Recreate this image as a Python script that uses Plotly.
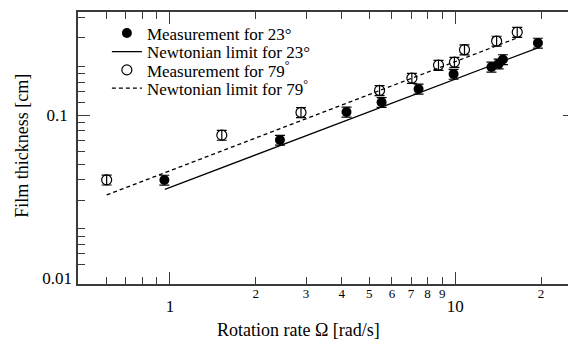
import math
import plotly.graph_objects as go

# ---- data ----
omega_23 = [0.956, 2.43, 4.16, 5.52, 7.44, 9.87, 13.4, 14.2, 14.7, 19.5]
thick_23 = [0.0399, 0.0703, 0.1047, 0.120, 0.145, 0.179, 0.198, 0.207, 0.220, 0.278]

omega_79 = [0.60, 1.52, 2.88, 5.43, 7.05, 8.74, 9.94, 10.78, 13.97, 16.5]
thick_79 = [0.0400, 0.0754, 0.104, 0.142, 0.169, 0.203, 0.212, 0.253, 0.286, 0.324]

err_pct = 7.0  # relative error bar (percent)

newt23_x = [0.96, 19.8]
newt23_y = [0.035, 0.2625]
newt79_x = [0.60, 16.6]
newt79_y = [0.0323, 0.300]

x_major = [1, 10]
x_major_text = ["1", "10"]
x_minor_labeled = [2, 3, 4, 5, 6, 7, 8, 9, 20]
x_minor_text = ["2", "3", "4", "5", "6", "7", "8", "9", "2"]
x_minor = [0.6, 0.7, 0.8, 0.9, 2, 3, 4, 5, 6, 7, 8, 9, 20]

y_major = [0.1]
y_major_text = ["0.1"]
y_label_only = [0.01]
y_label_only_text = ["0.01"]
y_minor = [0.012, 0.014, 0.016, 0.018, 0.02, 0.03, 0.04, 0.05, 0.06, 0.07,
           0.08, 0.09, 0.12, 0.14, 0.16, 0.18, 0.2, 0.3, 0.4]

legend_names = ["Measurement for 23°", "Newtonian limit for 23°",
                "Measurement for 79<sup>°</sup>", "Newtonian limit for 79<sup>°</sup>"]

# ---- layout geometry (pixels) ----
W, H = 577, 341
L, R, T, B = 78, 577, 11.5, 284.3
x_lo = -0.3223
x_hi = x_lo + (R - L) / 286.4
y_lo, y_hi = -2.0387, -0.365

FONT = "'Liberation Serif', 'Times New Roman', Times, serif"
AX = "#3a3a3a"

def px_to_paper_x(px):
    return (px - L) / (R - L)

def px_to_paper_y(py):
    return (B - py) / (B - T)

fig = go.Figure()

fig.add_trace(go.Scatter(
    x=omega_23, y=thick_23, mode="markers", name=legend_names[0],
    marker=dict(symbol="circle", size=10, color="black"),
    error_y=dict(type="percent", value=err_pct, color="black", thickness=1.2, width=5),
    legend="legend"))
fig.add_trace(go.Scatter(
    x=newt23_x, y=newt23_y, mode="lines", name=legend_names[1],
    line=dict(color="black", width=1.3), legend="legend2",
    xaxis="x2", yaxis="y2"))
fig.add_trace(go.Scatter(
    x=omega_79, y=thick_79, mode="markers", name=legend_names[2],
    marker=dict(symbol="circle-open", size=10, color="black", line=dict(width=1.2)),
    error_y=dict(type="percent", value=err_pct, color="black", thickness=1.2, width=5),
    legend="legend3"))
fig.add_trace(go.Scatter(
    x=newt79_x, y=newt79_y, mode="lines", name=legend_names[3],
    line=dict(color="black", width=1.3, dash="4px,3px"), legend="legend4",
    xaxis="x2", yaxis="y2"))

leg_common = dict(font=dict(family=FONT, size=17, color="black"),
                  bgcolor="rgba(0,0,0,0)", borderwidth=0,
                  xanchor="left", yanchor="middle", x=px_to_paper_x(107))
legend_rows = [33, 51.7, 70, 88.3]

fig.update_layout(
    width=W, height=H,
    margin=dict(l=L, r=W - R, t=T, b=H - B, pad=0),
    paper_bgcolor="white", plot_bgcolor="white",
    font=dict(family=FONT, color="black", size=16),
    showlegend=True,
    legend=dict(**leg_common, y=px_to_paper_y(legend_rows[0])),
    legend2=dict(**leg_common, y=px_to_paper_y(legend_rows[1])),
    legend3=dict(**leg_common, y=px_to_paper_y(legend_rows[2])),
    legend4=dict(**leg_common, y=px_to_paper_y(legend_rows[3])),
    xaxis=dict(type="log", range=[x_lo, x_hi], showgrid=False, zeroline=False,
               showline=True, linecolor=AX, linewidth=1.6, mirror="ticks",
               ticks="inside", ticklen=12, tickwidth=1.3, tickcolor=AX,
               tickmode="array", tickvals=x_major, ticktext=x_major_text,
               tickfont=dict(family=FONT, size=17), ticklabelstandoff=6,
               minor=dict(tickmode="array", tickvals=x_minor, ticks="inside",
                          ticklen=7, tickwidth=1.3, tickcolor=AX, showgrid=False)),
    xaxis2=dict(type="log", range=[x_lo, x_hi], overlaying="x", side="bottom",
                anchor="y", showgrid=False, zeroline=False, showline=False,
                ticks="", tickmode="array", tickvals=x_minor_labeled,
                ticktext=x_minor_text, tickfont=dict(family=FONT, size=13),
                ticklabelstandoff=0),
    yaxis=dict(type="log", range=[y_lo, y_hi], showgrid=False, zeroline=False,
               showline=True, linecolor=AX, linewidth=1.6, mirror="ticks",
               ticks="inside", ticklen=12, tickwidth=1.3, tickcolor=AX,
               tickmode="array", tickvals=y_major, ticktext=y_major_text,
               tickfont=dict(family=FONT, size=17), ticklabelstandoff=5,
               minor=dict(tickmode="array", tickvals=y_minor, ticks="inside",
                          ticklen=7, tickwidth=1.3, tickcolor=AX, showgrid=False)),
    yaxis2=dict(type="log", range=[y_lo, y_hi], overlaying="y", side="left",
                anchor="x", showgrid=False, zeroline=False, showline=False,
                ticks="", tickmode="array", tickvals=y_label_only,
                ticktext=y_label_only_text, tickfont=dict(family=FONT, size=17),
                ticklabelstandoff=5),
    annotations=[
        dict(text="Rotation rate Ω [rad/s]", xref="paper", yref="paper",
             x=px_to_paper_x(299), y=px_to_paper_y(330), xanchor="center",
             yanchor="middle", showarrow=False, font=dict(family=FONT, size=18)),
        dict(text="Film thickness [cm]", xref="paper", yref="paper",
             x=px_to_paper_x(21.5), y=px_to_paper_y(146), xanchor="center",
             yanchor="middle", textangle=-90, showarrow=False,
             font=dict(family=FONT, size=18)),
    ],
)

fig.write_html(
    "out.html",
    config={"displayModeBar": False},
    post_script="document.body.style.margin='0';document.body.style.overflow='hidden';",
)
